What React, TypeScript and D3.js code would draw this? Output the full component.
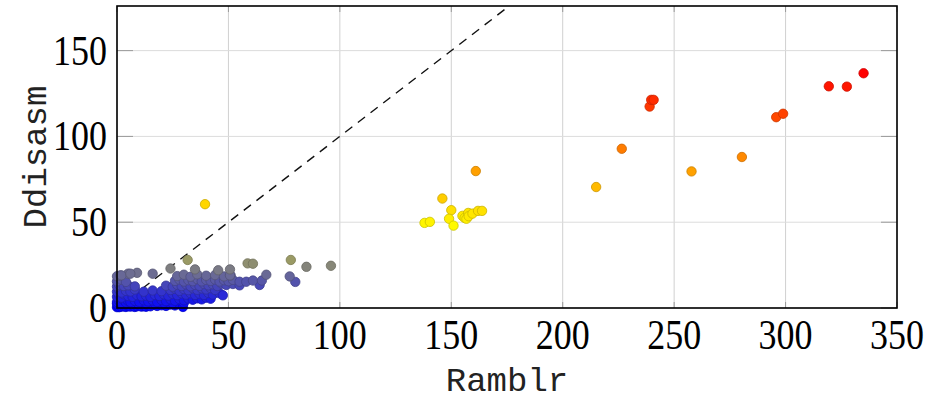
import React from "react";
import * as d3 from "d3";

// each pair is [Ramblr, Ddisasm]
const smallBinaries: [number, number][] = [
  [0, 0.5], [0.5, 1], [1, 0.5], [1.5, 1.5], [2, 0.8], [3, 1], [4, 0.6], [5, 1.2], [6, 0.8], [7, 1.4],
  [8, 0.6], [9, 1], [10, 1.5], [11, 0.8], [12, 1.2], [13, 0.7], [14, 1.5], [15, 1], [16, 1.8], [18, 1.2],
  [20, 1.6], [22, 1.2], [24, 2], [26, 1.5], [28, 2.2], [29.6, 0.6],
  [0, 2.5], [1.5, 2.8], [3.5, 2.2], [6.5, 2.6], [9.5, 2.4], [13, 2.8], [17, 2.6], [21, 3], [25, 2.8], [30, 3],
  [0, 3.5], [1, 4], [2, 3], [3, 4.5], [4, 3.2], [5, 4], [6, 3.5], [8, 4.2], [10, 3.6], [12, 4.5],
  [14, 3.8], [16, 4.4], [18, 3.5], [20, 4.6], [22, 4], [24, 5], [26, 4.2], [28, 5.2], [30, 4.5], [32, 5.5],
  [34, 4.8], [36, 5.6], [38, 5], [40, 6], [42, 5.4],
  [0, 6.5], [1, 7.5], [2, 6], [3, 8], [5, 7], [7, 6.5], [9, 7.5], [11, 6.8], [13, 7.2], [15, 6.5],
  [17, 7.6], [19, 7], [21, 8], [23, 7.2], [25, 8.2], [27, 7.5], [29, 8.5], [31, 7.8], [33, 8.6], [35, 7.6],
  [37, 8.4], [39, 7.6], [41, 8.8], [43, 7.8], [46, 8.6], [47.5, 7.4],
  [0, 9.5], [1, 10.5], [2, 9], [4, 10], [6, 9.6], [8, 10.8], [12, 9.5], [16, 10.2], [20, 9.8], [24, 10.5],
  [26, 11.2], [28, 10], [30, 11], [32, 10.4], [34, 11.5], [36, 10.6], [38, 11.4], [40, 10.8], [42, 11.6], [44, 10.5],
];

const midBinaries: [number, number][] = [
  [0, 12.5], [1, 13.5], [3, 12.8], [5, 13.2], [8, 12.6], [22, 13], [25, 12.4], [27, 13.6], [29, 12.8], [31, 13.8],
  [33, 12.6], [35, 13.5], [37, 12.9], [39, 14], [41, 13.2], [43, 13.8], [45, 12.8], [47, 14.2], [49, 13.4], [52, 14],
  [55, 13.2], [64, 13.4],
  [0, 15.5], [2, 16.5], [4, 15.2], [26, 15.8], [28, 16.6], [30, 15.4], [32, 16.2], [34, 15.6], [36, 16.8], [38, 15.5],
  [40, 16.4], [42, 15.8], [44, 16.6], [46, 15.4], [48, 16.2], [50, 15.6], [52, 16.4], [55, 15.3], [58, 15.3], [61, 16],
  [65, 16], [80, 15.2],
  [0, 18.5], [1.5, 19], [5, 20], [9, 20.5], [16, 20], [27, 18.6], [30, 19.4], [33, 18.2], [36, 19.6], [40, 18.8],
  [44, 19.2], [48, 18.4], [51, 19], [50.7, 19], [67, 19.4], [77.5, 18.4], [2, 19], [6, 20],
];

const grayBinaries: [number, number][] = [
  [24, 23], [35, 22.5], [45.4, 22], [50.7, 22.5], [31.7, 28], [58.6, 26], [61, 25.8], [78, 28], [85, 24], [96, 24.6],
];

const mediumBinaries: [number, number][] = [
  [39.5, 60.5], [138, 49.6], [140.4, 50.2], [146, 63.8], [150, 57], [149, 52], [151, 48], [155, 53.7], [156, 52.5],
  [156.8, 52], [157.6, 55.4], [157.8, 53.5], [159.5, 55], [162, 56.6], [163.8, 56.6], [161, 79.8],
];

const largeBinaries: [number, number][] = [
  [215, 70.5], [226.5, 92.8], [239, 117.4], [239.7, 121.3], [240.8, 121.3], [257.8, 79.6], [280.4, 88],
  [295.8, 111.2], [298.9, 113.2], [319.4, 129.2], [327.5, 129], [335, 136.8],
];

const xTicks = [0, 50, 100, 150, 200, 250, 300, 350];
const yTicks = [0, 50, 100, 150];

const allPoints = [...smallBinaries, ...midBinaries, ...grayBinaries, ...mediumBinaries, ...largeBinaries];

const W = 931;
const H = 400;
const left = 117;
const right = 897;
const top = 6;
const bottom = 308;

export default function App() {
  const x = d3.scaleLinear().domain([0, 350]).range([left, right]);
  const y = d3.scaleLinear().domain([0, 176]).range([bottom, top]);

  // pgfplots "hot" colormap: blue -> yellow -> orange -> red, mapped on Ddisasm
  const [mMin, mMax] = d3.extent(allPoints, (d) => d[1]) as [number, number];
  const step = (mMax - mMin) / 3;
  const color = d3
    .scaleLinear<string>()
    .domain([mMin, mMin + step, mMin + 2 * step, mMax])
    .range(["rgb(0,0,255)", "rgb(255,255,0)", "rgb(255,128,0)", "rgb(255,0,0)"])
    .interpolate(d3.interpolateRgb);

  const diag = d3.line<number>()(
    [0, 176].map((v) => [x(v), y(v)] as [number, number])
  );

  return (
    <svg width={W} height={H} style={{ position: "absolute", left: 0, top: 0 }}>
      <rect width={W} height={H} fill="#fff" />
      <defs>
        <clipPath id="plotclip">
          <rect x={left} y={top} width={right - left} height={bottom - top} />
        </clipPath>
      </defs>
      {xTicks.map((t) => (
        <line key={"gx" + t} x1={x(t)} x2={x(t)} y1={top} y2={bottom} stroke="#d0d0d0" strokeWidth={1} />
      ))}
      {yTicks.map((t) => (
        <line key={"gy" + t} x1={left} x2={right} y1={y(t)} y2={y(t)} stroke="#dcdcdc" strokeWidth={1} />
      ))}
      {xTicks.map((t) => (
        <g key={"tx" + t} stroke="#9a9a9a" strokeWidth={1}>
          <line x1={x(t)} x2={x(t)} y1={bottom} y2={bottom - 6} />
          <line x1={x(t)} x2={x(t)} y1={top} y2={top + 6} />
        </g>
      ))}
      {yTicks.map((t) => (
        <g key={"ty" + t} stroke="#9a9a9a" strokeWidth={1}>
          <line x1={left} x2={left + 16} y1={y(t)} y2={y(t)} />
          <line x1={right} x2={right - 16} y1={y(t)} y2={y(t)} />
        </g>
      ))}
      <path d={diag ?? ""} fill="none" stroke="#111" strokeWidth={1.4} strokeDasharray="9,7" clipPath="url(#plotclip)" />
      <g>
        {allPoints.map((d, i) => {
          const c = color(d[1]);
          return (
            <circle
              key={i}
              cx={x(d[0])}
              cy={y(d[1])}
              r={4.7}
              fill={c}
              stroke={d3.interpolateRgb(c, "#000")(0.2)}
              strokeWidth={0.8}
            />
          );
        })}
      </g>
      <rect x={left} y={top} width={right - left} height={bottom - top} fill="none" stroke="#000" strokeWidth={1.6} />
      <g fontFamily="'Liberation Serif', serif" fontSize={36} fill="#000">
        {xTicks.map((t) => (
          <text key={"lx" + t} transform={`translate(${x(t)},349) scale(1,1.15)`} textAnchor="middle">
            {t}
          </text>
        ))}
        {yTicks.map((t) => (
          <text key={"ly" + t} transform={`translate(107,${y(t) + 14}) scale(1,1.15)`} textAnchor="end">
            {t}
          </text>
        ))}
      </g>
      <g fontFamily="'Liberation Mono', monospace" fontSize={34} fill="#222">
        <text x={(left + right) / 2} y={391} textAnchor="middle">
          Ramblr
        </text>
        <text transform={`translate(46,${(top + bottom) / 2}) rotate(-90)`} textAnchor="middle">
          Ddisasm
        </text>
      </g>
    </svg>
  );
}
